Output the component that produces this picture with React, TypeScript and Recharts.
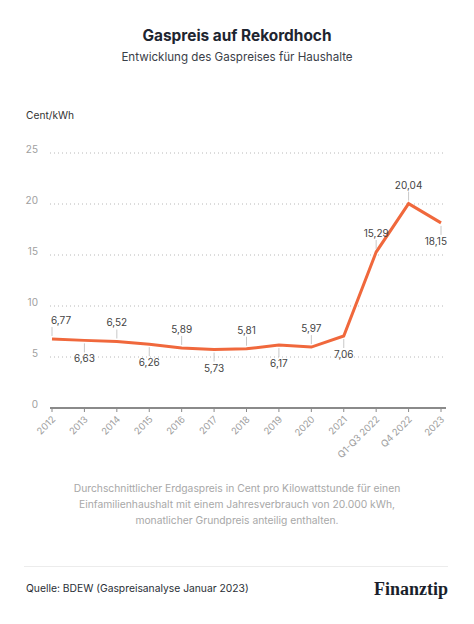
import React from "react";
import { LineChart, Line, XAxis, YAxis, CartesianGrid } from "recharts";

const categories = ["2012", "2013", "2014", "2015", "2016", "2017", "2018", "2019", "2020", "2021", "Q1-Q3 2022", "Q4 2022", "2023"];
const prices = [6.77, 6.63, 6.52, 6.26, 5.89, 5.73, 5.81, 6.17, 5.97, 7.06, 15.29, 20.04, 18.15];
const labelSide = ["up", "down", "up", "down", "up", "down", "up", "down", "up", "down", "up", "up", "down"];
const yTicks = [0, 5, 10, 15, 20, 25];

const data = categories.map((c, i) => ({ name: c, price: prices[i] }));

const FONT = "Inter, 'Noto Sans', sans-serif";
const ORANGE = "#F0683C";

const fmt = (v: number) => v.toFixed(2).replace(".", ",");

const renderLabel = (props: any) => {
  const { x, y, value, index } = props;
  const up = labelSide[index] === "up";
  const anchor = index === 0 ? "start" : index === categories.length - 1 ? "end" : "middle";
  const tx = index === 0 ? x - 1 : index === categories.length - 1 ? x + 6 : x;
  return (
    <g key={`lbl-${index}`}>
      <line x1={x} x2={x} y1={up ? y - 3 : y + 3} y2={up ? y - 12 : y + 12} stroke="#c8c8c8" strokeWidth={1} />
      <text x={tx} y={up ? y - 15 : y + 22} textAnchor={anchor} fontSize={10} fill="#444" fontFamily={FONT}>
        {fmt(value)}
      </text>
    </g>
  );
};

const XTick = (props: any) => {
  const { x, y, payload } = props;
  return (
    <text
      x={x + 4}
      y={y + 6}
      textAnchor="end"
      fontSize={9.5}
      fill="#a0a0a0"
      fontFamily={FONT}
      transform={`rotate(-45 ${x + 4} ${y + 6})`}
    >
      {payload.value}
    </text>
  );
};

const YTick = (props: any) => {
  const { x, y, payload } = props;
  return (
    <text x={x} y={y - 3} textAnchor="end" dominantBaseline="middle" fontSize={10} fill="#a0a0a0" fontFamily={FONT}>
      {payload.value}
    </text>
  );
};

export default function App() {
  return (
    <div style={{ position: "absolute", left: 0, top: 0, width: 474, height: 624, background: "#fff", fontFamily: FONT }}>
      <div style={{ position: "absolute", top: 26, width: 474, textAlign: "center", fontSize: 15.4, fontWeight: 700, color: "#1e2530" }}>
        Gaspreis auf Rekordhoch
      </div>
      <div style={{ position: "absolute", top: 50, width: 474, textAlign: "center", fontSize: 11.6, color: "#3a4048" }}>
        Entwicklung des Gaspreises für Haushalte
      </div>
      <div style={{ position: "absolute", top: 109, left: 26, fontSize: 10.2, color: "#333" }}>Cent/kWh</div>
      <div style={{ position: "absolute", top: 0, left: 0 }}>
        <LineChart width={474} height={480} data={data} margin={{ top: 153, right: 28, bottom: 0, left: 0 }}>
          <CartesianGrid vertical={false} stroke="#b8b8b8" strokeDasharray="1 3" horizontalValues={[5, 10, 15, 20, 25]} />
          <XAxis
            dataKey="name"
            interval={0}
            height={72}
            padding={{ left: 2, right: 5 }}
            axisLine={{ stroke: "#8a8a8a", strokeWidth: 2 }}
            tickLine={{ stroke: "#8a8a8a" }}
            tickSize={4}
            tick={<XTick />}
          />
          <YAxis
            domain={[0, 25]}
            ticks={yTicks}
            width={50}
            axisLine={false}
            tickLine={false}
            tickSize={0}
            tickMargin={12}
            tick={<YTick />}
          />
          <Line
            type="linear"
            dataKey="price"
            stroke={ORANGE}
            strokeWidth={3}
            dot={false}
            activeDot={false}
            isAnimationActive={false}
            label={renderLabel}
          />
        </LineChart>
      </div>
      <div style={{ position: "absolute", top: 480, width: 474, textAlign: "center", fontSize: 10.3, lineHeight: "16px", color: "#a8a8a8" }}>
        Durchschnittlicher Erdgaspreis in Cent pro Kilowattstunde für einen
        <br />
        Einfamilienhaushalt mit einem Jahresverbrauch von 20.000 kWh,
        <br />
        monatlicher Grundpreis anteilig enthalten.
      </div>
      <div style={{ position: "absolute", top: 566, left: 24, width: 424, height: 1, background: "#ececec" }} />
      <div style={{ position: "absolute", top: 582, left: 26, fontSize: 10.3, color: "#2a2f36" }}>
        Quelle: BDEW (Gaspreisanalyse Januar 2023)
      </div>
      <div
        style={{
          position: "absolute",
          top: 579,
          right: 26,
          fontSize: 18,
          lineHeight: "20px",
          fontWeight: 700,
          color: "#1a1f2b",
          fontFamily: "'Liberation Serif', 'DejaVu Serif', serif",
        }}
      >
        Finanztip
      </div>
    </div>
  );
}
